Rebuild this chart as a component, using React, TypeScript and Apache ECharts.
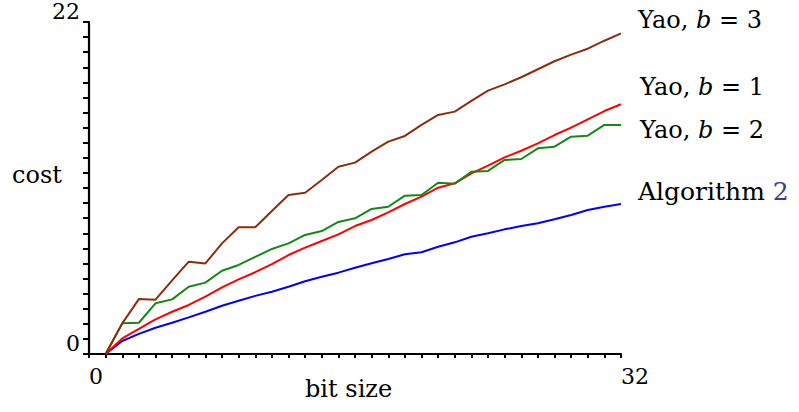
import React, { useEffect, useRef } from "react";
import * as echarts from "echarts";

const bitSizes = [1, 2, 3, 4, 5, 6, 7, 8, 9, 10, 11, 12, 13, 14, 15, 16, 17, 18, 19, 20, 21, 22, 23, 24, 25, 26, 27, 28, 29, 30, 31, 32];

const yaoB3 = [0, 2.03, 3.64, 3.6, 4.88, 6.12, 6.0, 7.33, 8.4, 8.4, 9.47, 10.54, 10.69, 11.53, 12.41, 12.68, 13.41, 14.07, 14.45, 15.18, 15.84, 16.06, 16.77, 17.45, 17.87, 18.34, 18.87, 19.4, 19.84, 20.23, 20.76, 21.25];
const yaoB2 = [0, 2.03, 2.07, 3.36, 3.62, 4.46, 4.73, 5.52, 5.9, 6.43, 6.96, 7.33, 7.89, 8.15, 8.75, 8.99, 9.61, 9.76, 10.49, 10.54, 11.35, 11.29, 12.08, 12.13, 12.86, 12.92, 13.63, 13.74, 14.4, 14.47, 15.18, 15.18];
const yaoB1 = [0, 1.03, 1.66, 2.3, 2.8, 3.25, 3.8, 4.42, 4.95, 5.42, 5.96, 6.56, 7.05, 7.49, 7.93, 8.48, 8.88, 9.39, 9.94, 10.43, 11.02, 11.31, 11.97, 12.48, 13.03, 13.47, 13.96, 14.51, 15.0, 15.55, 16.1, 16.55];
const algorithm2 = [0, 0.86, 1.33, 1.74, 2.07, 2.43, 2.8, 3.2, 3.53, 3.85, 4.13, 4.46, 4.82, 5.12, 5.39, 5.72, 6.01, 6.3, 6.61, 6.74, 7.11, 7.4, 7.77, 8.0, 8.26, 8.48, 8.66, 8.93, 9.21, 9.54, 9.76, 9.94];

const xMin = 0;
const xMax = 32;
const yMin = 0;
const yMax = 22;
const xTickLabels = [0, 32];
const yTickLabels = [0, 22];

const FONT = "'DejaVu Serif', serif";

function pairs(vals: number[]) {
  return bitSizes.map((x, i) => [x, vals[i]]);
}

export default function App() {
  const ref = useRef<HTMLDivElement>(null);
  useEffect(() => {
    if (!ref.current) return;
    const chart = echarts.init(ref.current, null, { renderer: "svg" });
    const labelStyle = { fontFamily: FONT, fontSize: 24, fill: "#000" };
    const rich = {
      i: { fontFamily: FONT, fontSize: 24, fontStyle: "italic", fill: "#000" },
      lk: { fontFamily: FONT, fontSize: 25, fill: "#3b3b91" },
      a: { fontFamily: FONT, fontSize: 25, fill: "#000" },
    };
    chart.setOption({
      animation: false,
      backgroundColor: "#fff",
      grid: { left: 89, right: 178, top: 21, bottom: 58, containLabel: false },
      xAxis: {
        type: "value",
        min: xMin,
        max: xMax,
        interval: 1,
        axisLine: { show: true, onZero: false, lineStyle: { color: "#000", width: 2.2 } },
        axisTick: { show: true, inside: false, length: 4, lineStyle: { color: "#000", width: 2 } },
        axisLabel: {
          show: true,
          align: "left",
          margin: 11,
          fontFamily: FONT,
          fontSize: 22,
          color: "#000",
          formatter: (v: number) => (xTickLabels.includes(v) ? String(v) : ""),
        },
        splitLine: { show: false },
      },
      yAxis: {
        type: "value",
        min: yMin,
        max: yMax,
        interval: 1,
        axisLine: { show: true, onZero: false, lineStyle: { color: "#000", width: 2.2 } },
        axisTick: { show: true, inside: false, length: 6, lineStyle: { color: "#000", width: 2 } },
        axisLabel: {
          show: true,
          margin: 9,
          verticalAlign: "bottom",
          fontFamily: FONT,
          fontSize: 22,
          color: "#000",
          formatter: (v: number) => (yTickLabels.includes(v) ? String(v) : ""),
        },
        splitLine: { show: false },
      },
      series: [
        { type: "line", data: pairs(algorithm2), symbol: "none", lineStyle: { color: "#0000ff", width: 2 }, itemStyle: { color: "#0000ff" } },
        { type: "line", data: pairs(yaoB1), symbol: "none", lineStyle: { color: "#ff0000", width: 2 }, itemStyle: { color: "#ff0000" } },
        { type: "line", data: pairs(yaoB2), symbol: "none", lineStyle: { color: "#128a12", width: 2 }, itemStyle: { color: "#128a12" } },
        { type: "line", data: pairs(yaoB3), symbol: "none", lineStyle: { color: "#8c2e0c", width: 2 }, itemStyle: { color: "#8c2e0c" } },
      ],
      graphic: [
        { type: "text", left: 12, top: 163, style: { ...labelStyle, text: "cost" } },
        { type: "text", left: 305, top: 377, style: { ...labelStyle, text: "bit size" } },
        { type: "text", left: 638, top: 8, style: { ...labelStyle, text: "Yao, {i|b} = 3", rich } },
        { type: "text", left: 640, top: 75, style: { ...labelStyle, text: "Yao, {i|b} = 1", rich } },
        { type: "text", left: 640, top: 118, style: { ...labelStyle, text: "Yao, {i|b} = 2", rich } },
        { type: "text", left: 638, top: 179, style: { ...labelStyle, fontSize: 25, text: "{a|Algorithm} {lk|2}", rich } },
      ],
    });
    return () => chart.dispose();
  }, []);
  return <div ref={ref} style={{ position: "fixed", left: 0, top: 0, width: 799, height: 412 }} />;
}
